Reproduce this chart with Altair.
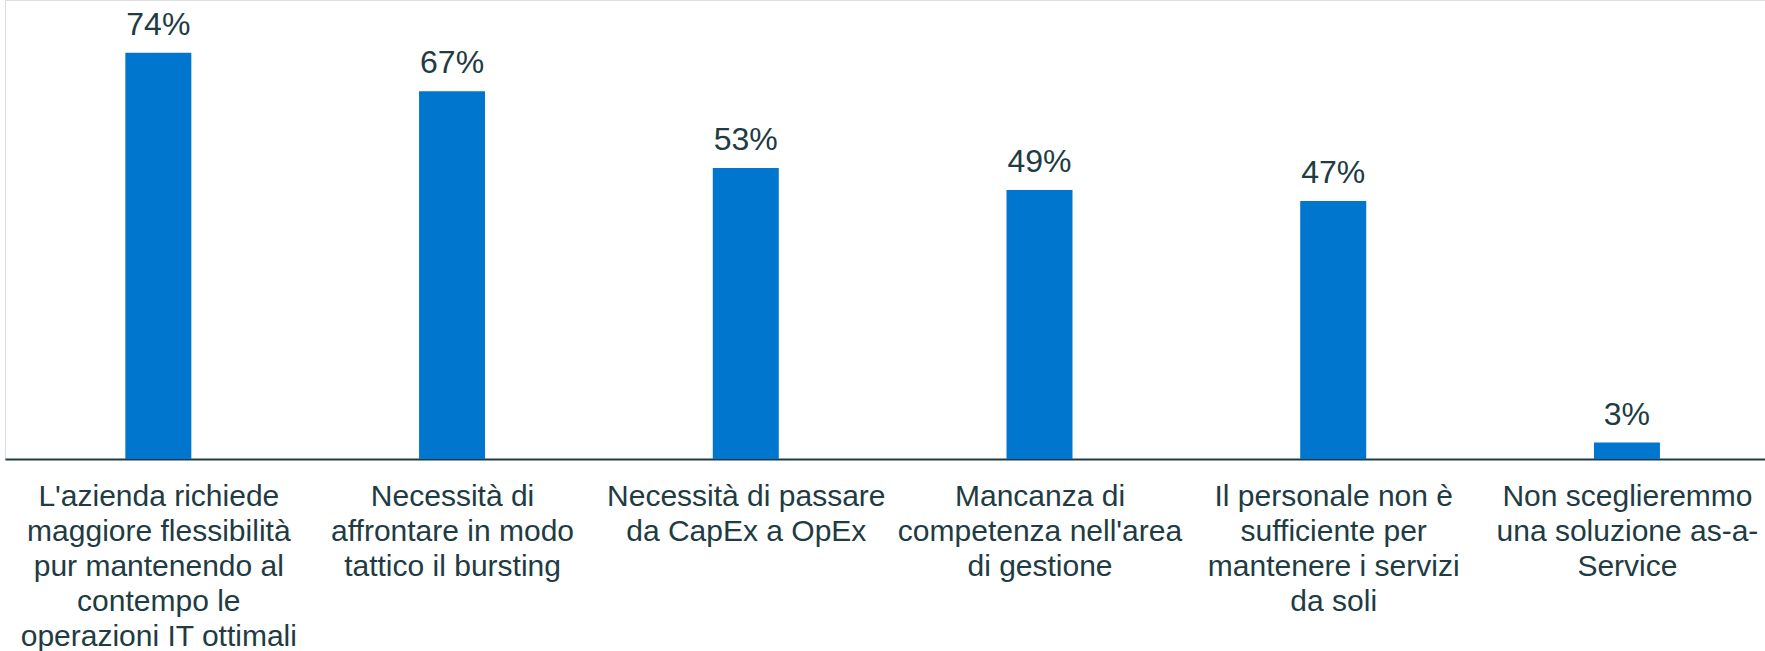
import json
import altair as alt
import pandas as pd

categories = [
    "L'azienda richiede\nmaggiore flessibilità\npur mantenendo al\ncontempo le\noperazioni IT ottimali",
    "Necessità di\naffrontare in modo\ntattico il bursting",
    "Necessità di passare\nda CapEx a OpEx",
    "Mancanza di\ncompetenza nell'area\ndi gestione",
    "Il personale non è\nsufficiente per\nmantenere i servizi\nda soli",
    "Non sceglieremmo\nuna soluzione as-a-\nService",
]
values = [74, 67, 53, 49, 47, 3]
value_labels = ["74%", "67%", "53%", "49%", "47%", "3%"]

idx = list(range(len(categories)))
df = pd.DataFrame({"idx": idx, "cat": categories, "val": values, "lab": value_labels})

BLUE = "#0076CE"
TEXT = "#213b43"
FONT = "Liberation Sans"

label_expr = "split(" + json.dumps(categories, ensure_ascii=False) + "[datum.value], '\\n')"

x = alt.X(
    "idx:Q",
    scale=alt.Scale(domain=[-0.505, 5.453], nice=False, zero=False),
    axis=alt.Axis(
        title=None,
        values=idx,
        labelAngle=0,
        labelExpr=label_expr,
        labelFont=FONT,
        labelFontSize=30,
        labelLineHeight=35,
        labelColor=TEXT,
        labelLimit=400,
        labelPadding=22,
        labelBaseline="top",
        labelFlush=False,
        labelOverlap=False,
        ticks=False,
        domainColor=TEXT,
        domainWidth=2,
        grid=False,
    ),
)
y = alt.Y(
    "val:Q",
    scale=alt.Scale(domain=[0, 83.6], nice=False, zero=True),
    axis=None,
)

bars = alt.Chart(df).mark_bar(color=BLUE, size=66).encode(x=x, y=y)
texts = alt.Chart(df).mark_text(
    font=FONT, fontSize=32, color=TEXT, baseline="alphabetic", dy=-18
).encode(x=x, y=y, text="lab:N")

chart = (
    alt.layer(bars, texts)
    .properties(width=1760, height=459, padding={"left": 5, "top": 0, "right": 0, "bottom": 0})
    .configure_view(strokeWidth=0)
    .configure(background="white")
)

chart.save("out.html", embed_options={"renderer": "svg", "actions": False})
